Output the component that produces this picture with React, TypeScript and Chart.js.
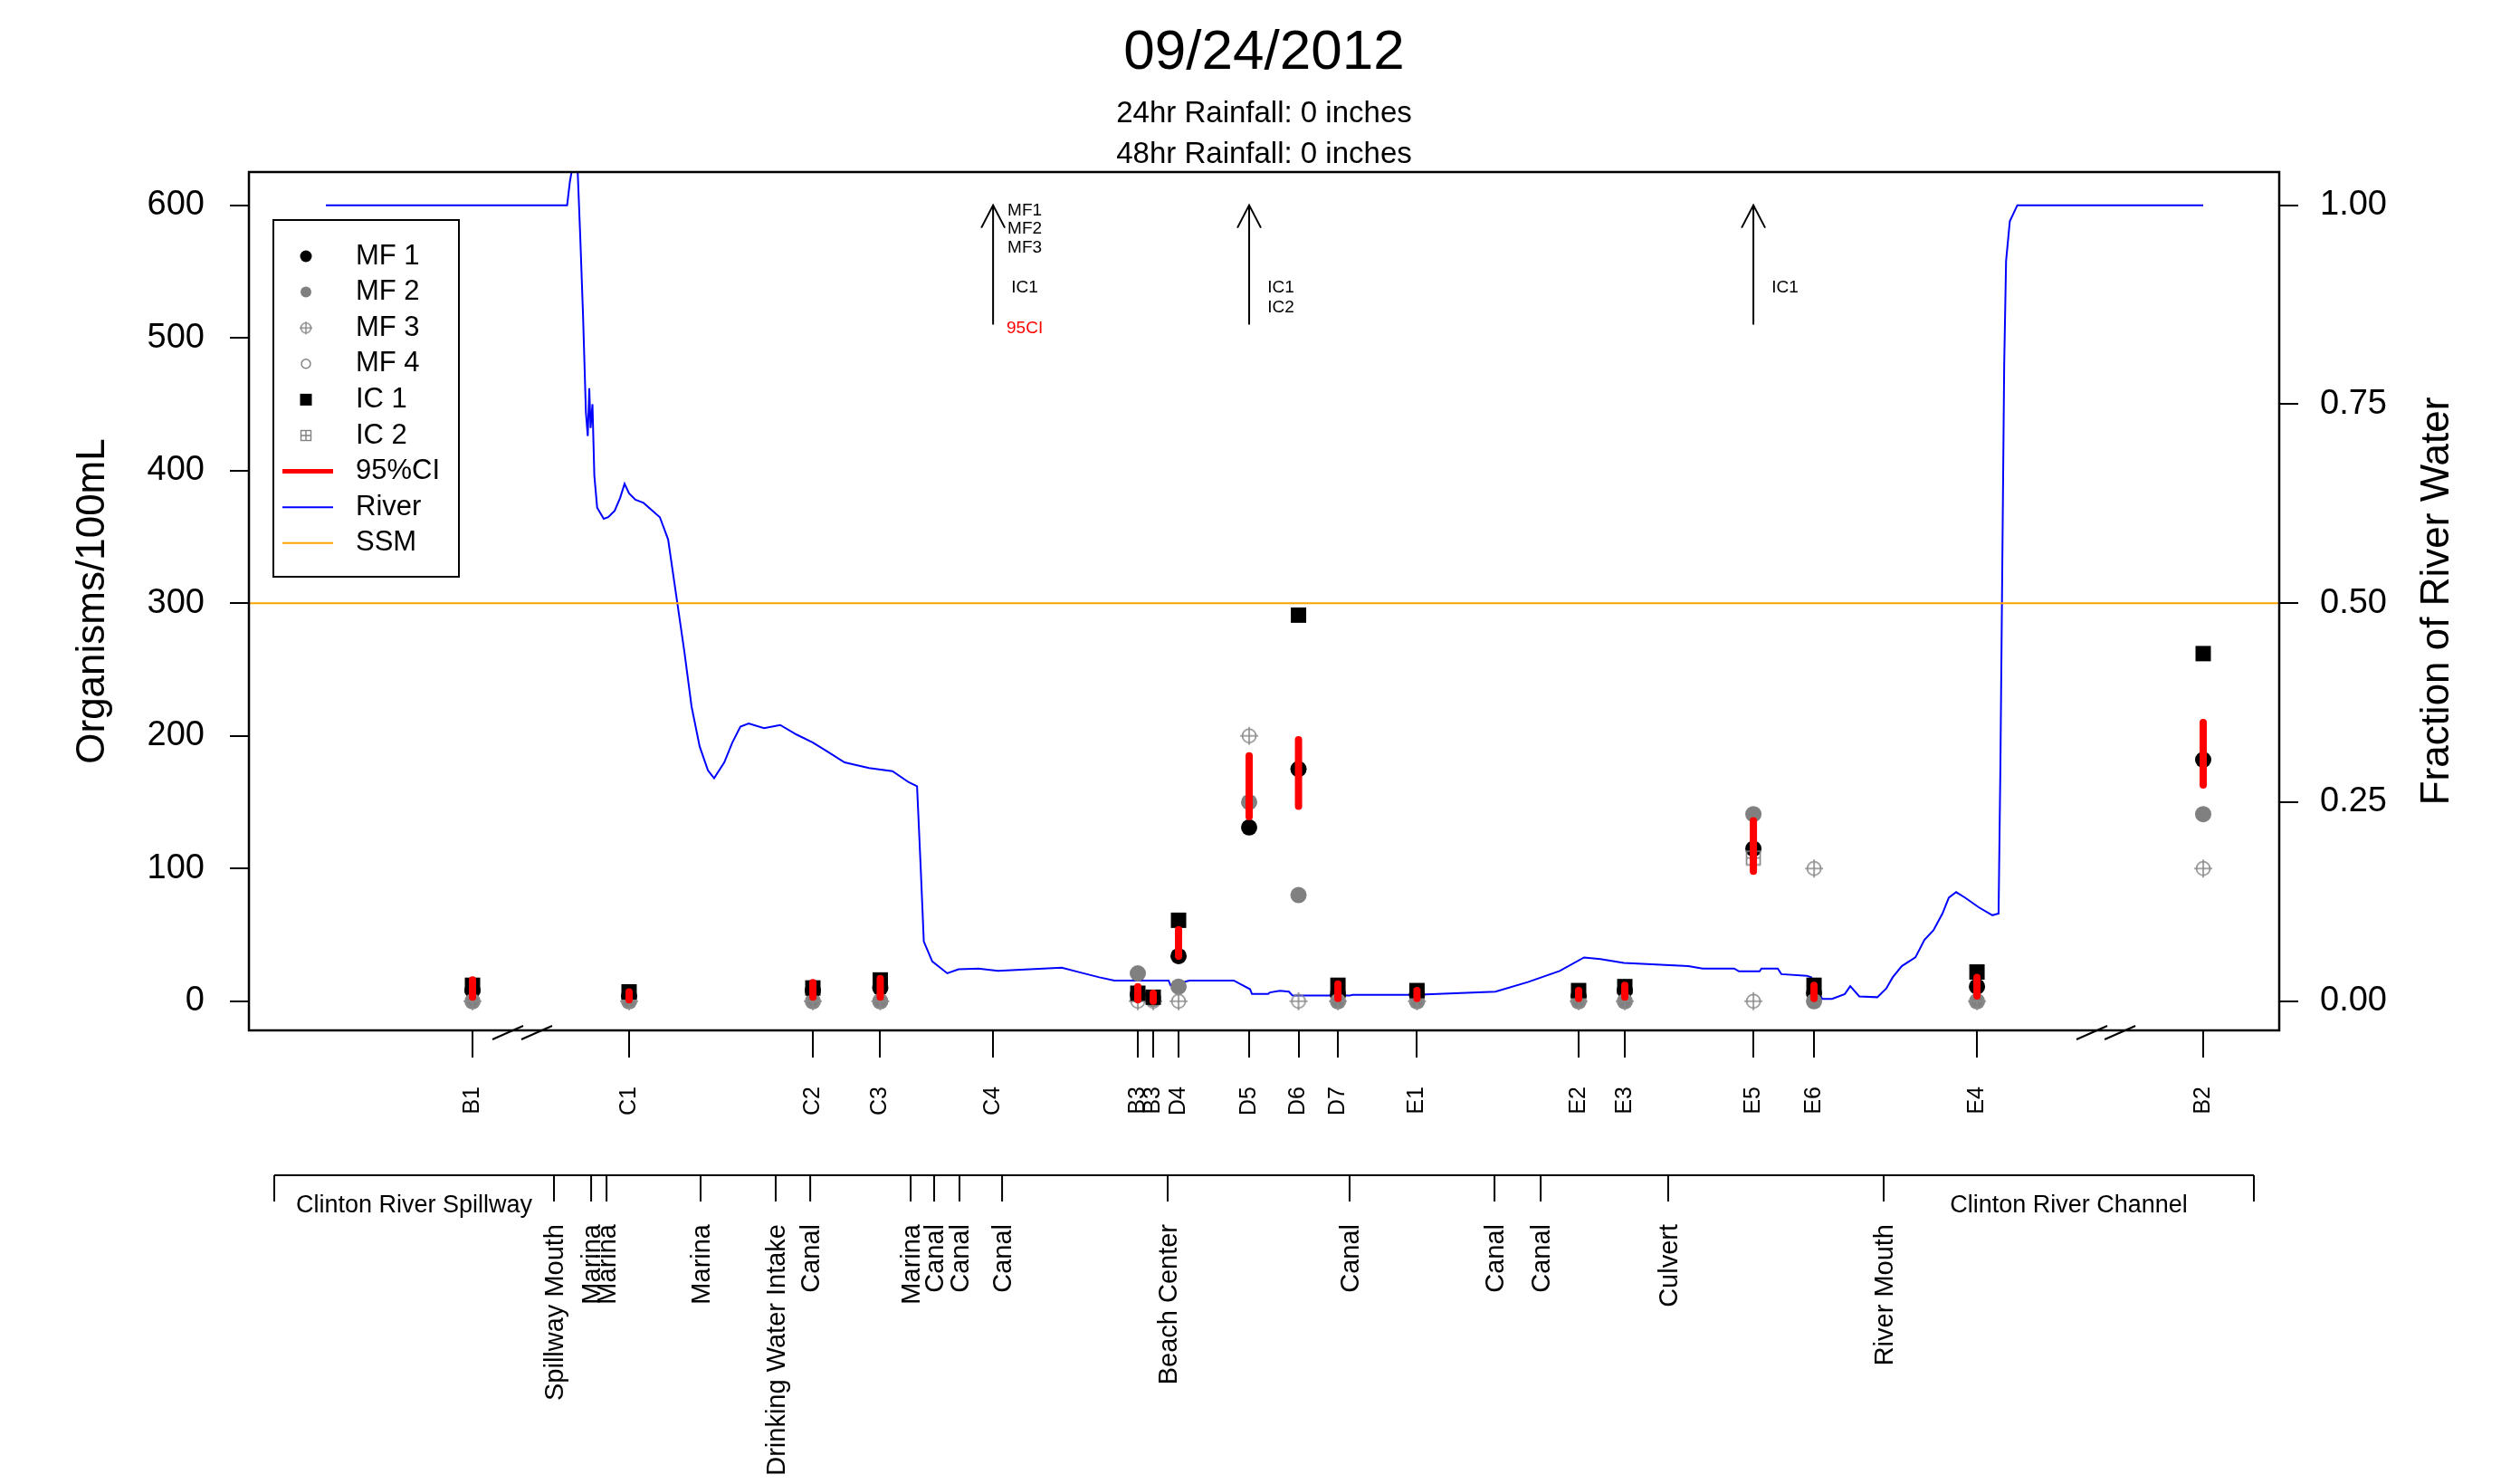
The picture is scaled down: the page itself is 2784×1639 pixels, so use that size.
import React, { useEffect, useRef } from "react";
import { Chart, registerables } from "chart.js";

Chart.register(...registerables);

const FONT = "'Liberation Sans', Arial, sans-serif";

// ---------------- DATA ----------------
const titleText = "09/24/2012";
const rain24 = "24hr Rainfall: 0 inches";
const rain48 = "48hr Rainfall: 0 inches";

const stations = ["B1", "C1", "C2", "C3", "C4", "B3", "B3", "D4", "D5", "D6", "D7", "E1", "E2", "E3", "E5", "E6", "E4", "B2"];
const stationPos = [7.81, 16.15, 25.94, 29.53, 35.54, 43.25, 44.07, 45.42, 49.18, 51.81, 53.91, 58.12, 66.73, 69.19, 76.04, 79.27, 87.95, 100];

const mf1 = [8, 4, 8, 10, null, 5, 2, 34, 131, 175, 5, 5, 4, 8, 115, 6, 11, 182];
const mf2 = [0, 0, 0, 0, null, 21, 2, 11, 150, 80, 0, 0, 0, 0, 141, 0, 0, 141];
const mf3 = [0, 0, 0, 0, null, 0, 0, 0, 200, 0, 0, 0, 0, 0, 0, 100, 0, 100];
const mf4 = [null, null, null, null, null, null, null, null, null, null, null, null, null, null, null, null, null, null];
const ic1 = [12, 7, 10, 16, null, 6, 3, 61, null, 291, 12, 8, 8, 11, null, 12, 22, 262];
const ic2 = [null, null, null, null, null, null, null, null, null, null, null, null, null, null, 108, null, null, null];
const ciLow = [3, 1, 3, 3, null, 1, 0, 34, 139, 147, 2, 2, 2, 3, 98, 2, 4, 163];
const ciHigh = [16, 7, 14, 17, null, 11, 6, 54, 185, 197, 13, 8, 8, 12, 136, 12, 18, 210];

// values above the plotted range, shown with arrows
const offscaleStations = ["C4", "D5", "E5"];
const offscaleLabels = [["MF1", "MF2", "MF3", "IC1", "95CI"], ["IC1", "IC2"], ["IC1"]];
const offscaleLabelLevel: Record<string, number> = { MF1: 596, MF2: 582, MF3: 568, IC1: 538, IC2: 523, "95CI": 507 };
const arrowFrom = 510;
const arrowTo = 600;

const ssmValue = 300;

// fraction of river water along the shore
const riverX = [0, 12.6, 12.85, 13.0, 13.15, 13.4, 13.55, 13.7, 13.85, 13.95, 14.03, 14.1, 14.2, 14.3, 14.45, 14.8, 15.04, 15.38, 15.67, 15.91, 16.15, 16.49, 16.92, 17.79, 18.23, 18.66, 19.09, 19.48, 19.91, 20.35, 20.68, 21.22, 21.65, 22.08, 22.52, 23.34, 24.2, 25.07, 25.94, 26.76, 27.63, 28.93, 30.18, 31.05, 31.49, 31.68, 31.85, 32.3, 33.1, 33.7, 34.76, 35.8, 37.5, 39.2, 40.2, 41.2, 42.0, 44.89, 44.99, 46.0, 48.36, 49.23, 49.33, 50.19, 50.29, 50.82, 51.3, 51.49, 54.53, 54.68, 58.0, 62.3, 64.03, 65.72, 67.02, 67.89, 69.14, 72.57, 73.34, 75.02, 75.27, 76.37, 76.47, 77.34, 77.53, 78.88, 79.12, 79.7, 80.23, 80.91, 81.2, 81.68, 82.64, 83.12, 83.46, 83.94, 84.67, 85.15, 85.63, 86.11, 86.45, 86.84, 87.32, 88.04, 88.77, 89.1, 89.2, 89.3, 89.4, 89.5, 89.7, 90.1, 100];
const riverFrac = [1.0, 1.0, 1.0, 1.03, 1.05, 1.05, 0.96, 0.86, 0.74, 0.71, 0.77, 0.72, 0.75, 0.66, 0.62, 0.606, 0.608, 0.616, 0.632, 0.65, 0.638, 0.63, 0.626, 0.608, 0.58, 0.51, 0.44, 0.37, 0.32, 0.29, 0.28, 0.3, 0.325, 0.345, 0.349, 0.343, 0.347, 0.335, 0.325, 0.313, 0.3, 0.293, 0.289, 0.275, 0.27, 0.17, 0.075, 0.05, 0.035, 0.04, 0.041, 0.038, 0.04, 0.042, 0.036, 0.03, 0.026, 0.026, 0.02, 0.026, 0.026, 0.015, 0.009, 0.009, 0.011, 0.013, 0.012, 0.007, 0.007, 0.008, 0.008, 0.012, 0.024, 0.038, 0.055, 0.053, 0.048, 0.044, 0.041, 0.041, 0.0375, 0.0375, 0.041, 0.041, 0.034, 0.032, 0.03, 0.003, 0.003, 0.009, 0.019, 0.006, 0.005, 0.016, 0.03, 0.044, 0.055, 0.077, 0.089, 0.11, 0.13, 0.137, 0.13, 0.118, 0.108, 0.11, 0.3, 0.55, 0.8, 0.93, 0.98, 1.0, 1.0];

// landmarks on the lower axis
const landmarkPos = [-2.75, 12.15, 14.13, 14.95, 19.96, 23.96, 25.8, 31.15, 32.4, 33.75, 36.02, 44.84, 54.53, 62.25, 64.71, 71.5, 82.98, 102.7];
const landmarkNames = ["", "Spillway Mouth", "Marina", "Marina", "Marina", "Drinking Water Intake", "Canal", "Marina", "Canal", "Canal", "Canal", "Beach Center", "Canal", "Canal", "Canal", "Culvert", "River Mouth", ""];
const segmentNames = ["Clinton River Spillway", "Clinton River Channel"];
const segmentRanges = [[-2.75, 12.15], [82.98, 102.7]];

const axisBreaks = [9.69, 11.23, 94.07, 95.57];

const yTicks = [0, 100, 200, 300, 400, 500, 600];
const y2Ticks = [0, 0.25, 0.5, 0.75, 1.0];
const legendLabels = ["MF 1", "MF 2", "MF 3", "MF 4", "IC 1", "IC 2", "95%CI", "River", "SSM"];

// ---------------- STYLE / LAYOUT ----------------
const W = 2784;
const H = 1639;
const AREA = { left: 275, right: 2518, top: 190, bottom: 1138 };
const X_MIN = -4.1;
const X_MAX = 104.05;
const Y_MIN = -22;
const Y_MAX = 625;
const GREY = "#808080";

function circlePlus(size: number, r: number, color: string, lw: number) {
  const c = document.createElement("canvas");
  c.width = size;
  c.height = size;
  const g = c.getContext("2d")!;
  const m = size / 2;
  g.strokeStyle = color;
  g.lineWidth = lw;
  g.beginPath();
  g.arc(m, m, r, 0, Math.PI * 2);
  g.stroke();
  g.beginPath();
  g.moveTo(m, 1);
  g.lineTo(m, size - 1);
  g.moveTo(1, m);
  g.lineTo(size - 1, m);
  g.stroke();
  return c;
}

function squarePlus(size: number, color: string, lw: number) {
  const c = document.createElement("canvas");
  c.width = size;
  c.height = size;
  const g = c.getContext("2d")!;
  const m = size / 2;
  g.strokeStyle = color;
  g.lineWidth = lw;
  g.strokeRect(1.5, 1.5, size - 3, size - 3);
  g.beginPath();
  g.moveTo(m, 1.5);
  g.lineTo(m, size - 1.5);
  g.moveTo(1.5, m);
  g.lineTo(size - 1.5, m);
  g.stroke();
  return c;
}

function pts(vals: (number | null)[]) {
  return stationPos.map((x, i) => ({ x, y: vals[i] }));
}

export default function App() {
  const ref = useRef<HTMLCanvasElement | null>(null);

  useEffect(() => {
    document.body.style.margin = "0";
    const canvas = ref.current!;
    const mf3Img = circlePlus(22, 7.5, "#8a8a8a", 1.6);
    const ic2Img = squarePlus(18, GREY, 1.6);
    const mf3Leg = circlePlus(16, 5.5, "#8a8a8a", 1.4);
    const ic2Leg = squarePlus(14, GREY, 1.4);

    const ciData: { x: number; y: number | null }[] = [];
    stationPos.forEach((x, i) => {
      if (ciLow[i] == null || ciHigh[i] == null) return;
      ciData.push({ x, y: ciLow[i] as number });
      ciData.push({ x, y: ciHigh[i] as number });
      ciData.push({ x, y: null });
    });

    const decor = {
      id: "decor",
      afterDraw(chart: any) {
        const ctx: CanvasRenderingContext2D = chart.ctx;
        const { left, right, top, bottom } = chart.chartArea;
        const xs = chart.scales.x;
        const ys = chart.scales.y;
        ctx.save();

        // plot box
        ctx.strokeStyle = "#000";
        ctx.lineWidth = 2.5;
        ctx.strokeRect(left, top, right - left, bottom - top);

        // titles
        const cx = (left + right) / 2;
        ctx.fillStyle = "#000";
        ctx.textAlign = "center";
        ctx.textBaseline = "alphabetic";
        ctx.font = `62px ${FONT}`;
        ctx.fillText(titleText, cx, 76);
        ctx.font = `33px ${FONT}`;
        ctx.fillText(rain24, cx, 135);
        ctx.fillText(rain48, cx, 180);

        // axis titles
        ctx.font = `44px ${FONT}`;
        ctx.textBaseline = "middle";
        const cy = (top + bottom) / 2;
        ctx.save();
        ctx.translate(103, cy);
        ctx.rotate(-Math.PI / 2);
        ctx.fillText("Organisms/100mL", 0, 0);
        ctx.restore();
        ctx.save();
        ctx.translate(2693, cy);
        ctx.rotate(-Math.PI / 2);
        ctx.fillText("Fraction of River Water", 0, 0);
        ctx.restore();

        // axis breaks
        ctx.lineWidth = 2;
        axisBreaks.forEach((b) => {
          const px = xs.getPixelForValue(b);
          ctx.beginPath();
          ctx.moveTo(px - 17, bottom + 10);
          ctx.lineTo(px + 17, bottom - 5);
          ctx.stroke();
        });

        // off-scale arrows
        offscaleStations.forEach((s, k) => {
          const idx = stations.indexOf(s);
          const px = xs.getPixelForValue(stationPos[idx]);
          const y0 = ys.getPixelForValue(arrowTo);
          const y1 = ys.getPixelForValue(arrowFrom);
          ctx.strokeStyle = "#000";
          ctx.lineWidth = 2;
          ctx.beginPath();
          ctx.moveTo(px, y1);
          ctx.lineTo(px, y0);
          ctx.moveTo(px - 13, y0 + 25);
          ctx.lineTo(px, y0);
          ctx.lineTo(px + 13, y0 + 25);
          ctx.stroke();
          ctx.font = `19px ${FONT}`;
          ctx.textAlign = "center";
          ctx.textBaseline = "middle";
          offscaleLabels[k].forEach((lab) => {
            ctx.fillStyle = lab === "95CI" ? "#FF0000" : "#000";
            ctx.fillText(lab, px + 35, ys.getPixelForValue(offscaleLabelLevel[lab]));
          });
        });

        // lower landmark axis
        const ay = 1298;
        ctx.strokeStyle = "#000";
        ctx.fillStyle = "#000";
        ctx.lineWidth = 2;
        ctx.beginPath();
        ctx.moveTo(xs.getPixelForValue(landmarkPos[0]), ay);
        ctx.lineTo(xs.getPixelForValue(landmarkPos[landmarkPos.length - 1]), ay);
        landmarkPos.forEach((p) => {
          const px = xs.getPixelForValue(p);
          ctx.moveTo(px, ay);
          ctx.lineTo(px, ay + 29);
        });
        ctx.stroke();
        ctx.font = `27px ${FONT}`;
        ctx.textAlign = "center";
        ctx.textBaseline = "middle";
        segmentNames.forEach((n, i) => {
          const px = (xs.getPixelForValue(segmentRanges[i][0]) + xs.getPixelForValue(segmentRanges[i][1])) / 2;
          ctx.fillText(n, px, 1332);
        });
        ctx.font = `29px ${FONT}`;
        ctx.textAlign = "right";
        landmarkNames.forEach((n, i) => {
          if (!n) return;
          const px = xs.getPixelForValue(landmarkPos[i]);
          ctx.save();
          ctx.translate(px + 2, 1352);
          ctx.rotate(-Math.PI / 2);
          ctx.fillText(n, 0, 0);
          ctx.restore();
        });

        // legend
        const lx = 302, ly = 243, lw = 205, lh = 394;
        ctx.fillStyle = "#fff";
        ctx.fillRect(lx, ly, lw, lh);
        ctx.strokeStyle = "#000";
        ctx.lineWidth = 2;
        ctx.strokeRect(lx, ly, lw, lh);
        const sx = 338;
        legendLabels.forEach((lab, i) => {
          const yy = 283 + i * 39.6;
          ctx.fillStyle = "#000";
          ctx.font = `31px ${FONT}`;
          ctx.textAlign = "left";
          ctx.textBaseline = "middle";
          ctx.fillText(lab, 393, yy);
          switch (i) {
            case 0:
              ctx.beginPath(); ctx.arc(sx, yy, 6.5, 0, Math.PI * 2); ctx.fillStyle = "#000"; ctx.fill();
              break;
            case 1:
              ctx.beginPath(); ctx.arc(sx, yy, 6, 0, Math.PI * 2); ctx.fillStyle = GREY; ctx.fill();
              break;
            case 2:
              ctx.drawImage(mf3Leg, sx - 8, yy - 8);
              break;
            case 3:
              ctx.beginPath(); ctx.arc(sx, yy, 5, 0, Math.PI * 2); ctx.strokeStyle = GREY; ctx.lineWidth = 1.4; ctx.stroke();
              break;
            case 4:
              ctx.fillStyle = "#000"; ctx.fillRect(sx - 6.5, yy - 6.5, 13, 13);
              break;
            case 5:
              ctx.drawImage(ic2Leg, sx - 7, yy - 7);
              break;
            default: {
              const col = i === 6 ? "#FF0000" : i === 7 ? "#0000FF" : "#FFA500";
              ctx.strokeStyle = col;
              ctx.lineWidth = i === 6 ? 5 : 2;
              ctx.beginPath(); ctx.moveTo(312, yy); ctx.lineTo(368, yy); ctx.stroke();
            }
          }
        });

        ctx.restore();
      },
    };

    const tickFont = { family: FONT, size: 38 };

    const chart = new Chart(canvas, {
      type: "scatter",
      data: {
        datasets: [
          {
            label: "River",
            data: riverX.map((x, i) => ({ x, y: riverFrac[i] })),
            yAxisID: "y2",
            showLine: true,
            borderColor: "#0000FF",
            borderWidth: 2,
            pointRadius: 0,
            order: 9,
          },
          {
            label: "SSM",
            data: [{ x: X_MIN, y: ssmValue }, { x: X_MAX, y: ssmValue }],
            showLine: true,
            borderColor: "#FFA500",
            borderWidth: 2,
            pointRadius: 0,
            order: 8,
          },
          { label: "MF 1", data: pts(mf1), pointStyle: "circle", pointRadius: 9, backgroundColor: "#000", borderWidth: 0, order: 7 },
          { label: "MF 2", data: pts(mf2), pointStyle: "circle", pointRadius: 9, backgroundColor: GREY, borderWidth: 0, order: 6 },
          { label: "MF 3", data: pts(mf3), pointStyle: mf3Img, pointRadius: 11, order: 5 },
          { label: "MF 4", data: pts(mf4), pointStyle: "circle", pointRadius: 7, backgroundColor: "rgba(0,0,0,0)", borderColor: GREY, borderWidth: 1.5, order: 4 },
          { label: "IC 1", data: pts(ic1), pointStyle: "rect", pointRadius: 12, backgroundColor: "#000", borderWidth: 0, order: 3 },
          { label: "IC 2", data: pts(ic2), pointStyle: ic2Img, pointRadius: 9, order: 2 },
          {
            label: "95%CI",
            data: ciData,
            showLine: true,
            spanGaps: false,
            borderColor: "#FF0000",
            borderWidth: 8,
            borderCapStyle: "round",
            pointRadius: 0,
            order: 1,
          },
        ] as any,
      },
      options: {
        responsive: false,
        animation: false,
        devicePixelRatio: 1,
        events: [],
        layout: { padding: { left: 0, right: 0, top: AREA.top, bottom: 0 } },
        plugins: { legend: { display: false }, tooltip: { enabled: false }, title: { display: false } },
        scales: {
          x: {
            type: "linear",
            position: "bottom",
            min: X_MIN,
            max: X_MAX,
            afterFit: (s: any) => { s.height = H - AREA.bottom; },
            afterBuildTicks: (s: any) => { s.ticks = stationPos.map((v) => ({ value: v })); },
            ticks: {
              autoSkip: false,
              minRotation: 90,
              maxRotation: 90,
              padding: 32,
              color: "#000",
              font: { family: FONT, size: 25 },
              callback: (_v: any, i: number) => stations[i],
            },
            grid: { drawOnChartArea: false, drawTicks: true, tickLength: 30, color: "#000", lineWidth: 2 },
            border: { display: false },
          },
          y: {
            type: "linear",
            position: "left",
            min: Y_MIN,
            max: Y_MAX,
            afterFit: (s: any) => { s.width = AREA.left; },
            afterBuildTicks: (s: any) => { s.ticks = yTicks.map((v) => ({ value: v })); },
            ticks: { padding: 28, color: "#000", font: tickFont, callback: (v: any) => String(v) },
            grid: { drawOnChartArea: false, drawTicks: true, tickLength: 21, color: "#000", lineWidth: 2 },
            border: { display: false },
          },
          y2: {
            type: "linear",
            position: "right",
            min: Y_MIN / 600,
            max: Y_MAX / 600,
            afterFit: (s: any) => { s.width = W - AREA.right; },
            afterBuildTicks: (s: any) => { s.ticks = y2Ticks.map((v) => ({ value: v })); },
            ticks: { padding: 24, color: "#000", font: tickFont, callback: (v: any) => Number(v).toFixed(2) },
            grid: { drawOnChartArea: false, drawTicks: true, tickLength: 21, color: "#000", lineWidth: 2 },
            border: { display: false },
          },
        },
      } as any,
      plugins: [decor],
    });

    return () => chart.destroy();
  }, []);

  return (
    <div style={{ width: W, height: H, background: "#fff" }}>
      <canvas ref={ref} width={W} height={H} style={{ display: "block", width: W, height: H }} />
    </div>
  );
}
